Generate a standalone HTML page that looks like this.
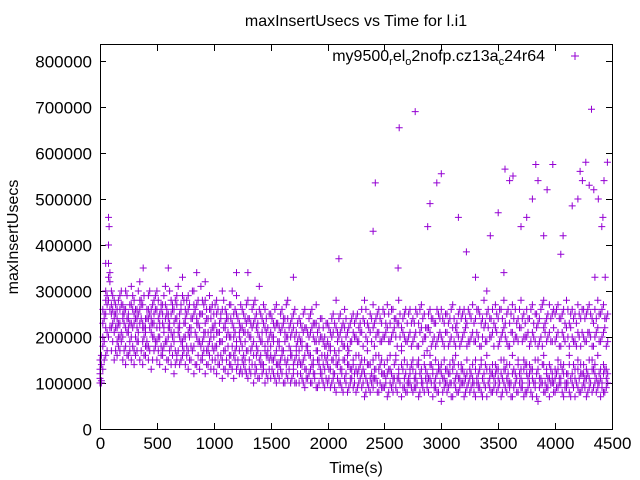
<!DOCTYPE html>
<html><head><meta charset="utf-8"><style>
body{margin:0;background:#fff}
svg{display:block;font-family:"Liberation Sans",sans-serif}
</style></head><body>
<svg id="c" width="640" height="480">
<rect width="640" height="480" fill="#fff"/>
<text x="356" y="26" font-size="16" text-anchor="middle">maxInsertUsecs vs Time for l.i1</text>
<text x="356" y="473" font-size="16" text-anchor="middle">Time(s)</text>
<text x="18" y="237" font-size="16" text-anchor="middle" transform="rotate(-90 18 237)">maxInsertUsecs</text>
<g id="axes"></g>
<g id="pts"></g>
<rect x="100.5" y="44.5" width="512" height="385" fill="none" stroke="#000"/>
<g>
<text x="545" y="61" font-size="16" text-anchor="end">my9500<tspan font-size="11" dy="4">r</tspan><tspan dy="-4">el</tspan><tspan font-size="11" dy="4">o</tspan><tspan dy="-4">2nofp.cz13a</tspan><tspan font-size="11" dy="4">c</tspan><tspan dy="-4">24r64</tspan></text>
<path d="M571 56h8M575 52v8" stroke="#9400d3" stroke-width="1"/>
</g>
</svg>
<script>
const times=[0,25,50,75,100,125,150,175,200,225,250,275,300,325,350,375,400,425,450,475,500,525,550,575,600,625,650,675,700,725,750,775,800,825,850,875,900,925,950,975,1000,1025,1050,1075,1100,1125,1150,1175,1200,1225,1250,1275,1300,1325,1350,1375,1400,1425,1450,1475,1500,1525,1550,1575,1600,1625,1650,1675,1700,1725,1750,1775,1800,1825,1850,1875,1900,1925,1950,1975,2000,2025,2050,2075,2100,2125,2150,2175,2200,2225,2250,2275,2300,2325,2350,2375,2400,2425,2450,2475,2500,2525,2550,2575,2600,2625,2650,2675,2700,2725,2750,2775,2800,2825,2850,2875,2900,2925,2950,2975,3000,3025,3050,3075,3100,3125,3150,3175,3200,3225,3250,3275,3300,3325,3350,3375,3400,3425,3450,3475,3500,3525,3550,3575,3600,3625,3650,3675,3700,3725,3750,3775,3800,3825,3850,3875,3900,3925,3950,3975,4000,4025,4050,4075,4100,4125,4150,4175,4200,4225,4250,4275,4300,4325,4350,4375,4400,4425,4450];
const timesB=[12,37,62,87,112,137,162,187,212,237,262,287,312,337,362,387,412,437,462,487,512,537,562,587,612,637,662,687,712,737,762,787,812,837,862,887,912,937,962,987,1012,1037,1062,1087,1112,1137,1162,1187,1212,1237,1262,1287,1312,1337,1362,1387,1412,1437,1462,1487,1512,1537,1562,1587,1612,1637,1662,1687,1712,1737,1762,1787,1812,1837,1862,1887,1912,1937,1962,1987,2012,2037,2062,2087,2112,2137,2162,2187,2212,2237,2262,2287,2312,2337,2362,2387,2412,2437,2462,2487,2512,2537,2562,2587,2612,2637,2662,2687,2712,2737,2762,2787,2812,2837,2862,2887,2912,2937,2962,2987,3012,3037,3062,3087,3112,3137,3162,3187,3212,3237,3262,3287,3312,3337,3362,3387,3412,3437,3462,3487,3512,3537,3562,3587,3612,3637,3662,3687,3712,3737,3762,3787,3812,3837,3862,3887,3912,3937,3962,3987,4012,4037,4062,4087,4112,4137,4162,4187,4212,4237,4262,4287,4312,4337,4362,4387,4412,4437,4462];
const seriesA=[120,180,250,360,220,210,190,230,200,180,240,200,170,220,260,190,210,180,230,200,190,220,170,240,200,180,210,160,230,190,200,170,220,180,240,190,160,210,180,200,170,210,190,150,220,180,200,160,190,170,180,150,210,170,190,160,200,140,180,170,160,190,140,180,170,150,200,160,130,170,150,180,130,170,160,140,190,150,120,160,140,170,120,160,150,130,180,140,110,150,160,130,150,120,170,140,110,160,130,150,140,120,160,100,150,130,170,110,140,120,150,110,140,130,160,100,140,120,150,130,120,150,100,140,130,160,110,140,120,150,130,110,150,120,140,100,160,130,120,140,110,150,130,140,100,160,120,140,130,150,120,140,110,150,130,100,160,120,140,110,130,150,110,140,120,160,100,130,150,120,140,110,150,130,120,160,110,140,130];
const seriesB=[150,260,300,400,300,280,260,290,270,300,250,310,280,260,320,270,240,290,260,280,300,250,270,310,240,280,260,290,250,330,260,290,240,300,270,250,280,320,240,260,250,280,230,300,260,240,270,250,290,230,260,240,280,230,270,250,310,240,260,220,250,230,270,220,260,240,280,230,250,210,240,220,260,210,250,230,270,220,240,200,230,210,250,280,240,220,260,210,230,250,240,220,260,280,230,250,270,240,260,230,250,270,230,260,240,280,220,250,230,260,240,260,230,270,250,220,260,240,230,250,260,230,250,240,270,220,250,240,260,230,250,270,240,260,230,280,250,240,260,270,240,260,280,250,230,270,260,240,280,250,260,240,270,250,230,260,280,240,270,250,250,270,240,260,280,230,260,250,270,240,260,250,270,240,260,280,250,270,240];
const seriesC=[100,130,160,200,170,150,160,170,150,140,160,150,140,170,150,140,160,150,130,170,150,140,160,130,150,140,120,150,140,160,140,130,150,120,140,130,150,120,140,130,130,120,140,110,130,120,140,110,130,120,120,130,110,120,100,130,110,120,100,110,110,120,100,110,120,100,110,100,120,100,100,110,90,110,100,120,90,100,110,90,100,90,110,80,100,90,110,80,100,90,80,100,90,70,100,80,90,110,80,90,90,70,100,80,90,110,70,90,80,100,80,90,70,100,80,90,110,70,90,80,60,90,80,100,70,90,80,100,70,90,80,100,70,90,80,100,70,90,80,100,90,70,100,80,90,70,100,80,90,70,80,100,70,90,60,100,80,90,70,100,80,90,100,70,90,80,100,70,90,80,100,70,90,80,100,90,70,80,90];
const seriesD=[110,200,220,280,250,240,220,200,250,220,210,230,250,190,230,220,180,240,210,230,220,200,230,190,250,210,190,240,200,180,230,210,180,250,200,220,190,230,170,210,200,180,230,190,170,210,160,200,180,210,150,190,170,200,160,180,150,190,170,160,180,150,170,140,160,190,150,170,140,160,170,140,160,180,130,150,170,140,160,130,160,130,150,140,170,120,150,160,130,140,130,160,120,150,140,110,150,130,160,120,120,150,130,110,160,120,140,150,100,130,130,120,150,110,140,120,160,130,110,140,140,110,130,120,150,110,140,130,100,120,110,140,130,100,150,120,130,110,140,120,130,120,150,110,140,120,100,150,110,130,140,120,130,100,150,110,140,130,110,120,110,130,140,120,100,140,120,110,130,140,120,130,110,150,140,100,130,120,110];
const seriesE=[130,230,280,330,270,250,240,260,240,260,220,270,230,240,280,230,220,260,240,250,260,230,250,270,220,250,230,270,220,290,240,260,210,270,230,220,250,280,210,240,220,250,210,260,230,210,240,220,250,200,220,210,240,200,230,220,260,210,220,190,210,200,230,190,220,210,240,200,220,180,200,190,220,180,210,200,230,190,200,180,190,180,210,220,200,190,220,180,190,210,200,190,210,230,190,210,220,200,210,190,200,220,190,210,200,230,180,200,190,210,190,210,180,220,200,170,210,190,180,200,200,180,210,190,220,180,200,190,210,180,190,210,190,200,180,220,190,200,210,220,180,200,220,190,180,210,200,190,220,200,200,180,210,190,180,200,220,190,210,190,190,210,180,200,220,180,200,190,210,180,200,190,210,180,200,220,190,210,180];
const seriesF=[140,240,270,320,260,250,230,270,250,240,230,260,240,250,270,220,240,250,230,260,240,260,220,250,230,260,240,220,260,230,250,220,240,260,230,250,210,240,260,220,230,210,240,220,250,200,230,210,240,220,210,230,200,220,240,210,190,230,210,200,200,220,190,210,230,200,180,210,200,190,190,210,180,200,220,190,170,200,190,180,180,200,170,190,210,180,200,170,190,200,190,210,180,200,220,190,180,210,190,200,210,190,200,220,180,200,210,190,200,180,200,180,210,190,200,220,180,200,190,210,190,210,180,200,190,210,180,200,220,190,200,190,210,180,200,190,220,200,180,210,190,210,200,180,210,190,200,220,190,200,210,190,200,220,190,180,210,200,190,220,200,180,210,190,200,220,190,180,200,210,190,210,200,180,210,190,200,220,190];
const seriesG=[105,190,210,260,230,220,200,210,230,210,190,220,200,210,240,200,190,220,200,190,200,180,210,190,220,200,170,210,190,200,180,200,170,210,190,180,200,170,190,180,180,160,190,170,200,160,180,170,150,190,160,170,150,180,140,170,160,140,160,150,150,160,140,150,170,140,130,160,150,140,140,150,130,160,140,120,150,130,140,150,130,150,120,140,130,150,120,140,130,120,120,140,130,110,140,120,130,100,140,120,110,130,120,140,110,100,130,120,110,140,110,140,120,100,130,110,140,100,120,130,110,130,120,100,140,120,110,130,110,100,120,100,110,130,110,140,100,120,110,130,100,110,130,120,100,130,110,120,100,140,110,130,100,120,110,140,100,110,130,100,120,110,130,100,120,110,140,100,110,120,110,120,100,130,110,120,100,130,120];
const seriesH=[100,150,170,220,190,170,180,190,170,160,170,180,160,190,170,160,180,170,150,180,170,160,180,150,170,160,140,170,150,170,160,150,170,140,160,150,170,140,160,150,150,140,160,130,150,140,130,150,140,130,140,120,130,140,120,110,140,130,120,130,130,110,120,130,100,120,130,110,100,120,120,100,110,120,100,110,90,120,100,110,110,100,90,110,100,80,100,90,110,100,90,110,100,80,90,100,110,80,100,90,100,80,90,110,80,100,90,80,100,90,90,100,80,90,110,80,100,90,80,100,80,100,90,70,100,80,90,100,80,100,90,80,100,90,70,90,100,80,90,80,100,80,90,100,70,90,80,100,90,80,90,80,100,70,90,100,80,90,100,80,90,100,80,90,100,70,90,100,80,90,90,80,100,90,80,100,90,80,100];
const seriesI=[160,250,290,340,290,270,280,300,260,290,270,290,260,300,280,290,260,300,270,290,280,270,290,260,300,270,280,310,270,280,280,270,300,260,280,310,270,260,290,270,270,260,250,280,240,270,300,260,240,270,250,270,240,260,280,230,250,270,240,250,240,260,230,250,240,270,220,240,260,230,230,250,220,240,260,230,210,240,220,230,220,240,230,210,250,230,240,220,240,230,250,230,240,260,220,240,230,250,240,260,230,250,260,240,230,250,240,260,250,230,230,250,260,240,220,250,240,230,260,240,240,250,230,260,240,230,260,250,240,260,240,230,260,250,240,230,260,240,230,250,260,240,230,260,250,240,230,260,240,230,240,260,230,250,240,270,230,250,240,260,260,240,250,230,260,250,240,230,250,260,240,260,250,230,240,250,260,240,250];
const outlierTimes=[75,80,50,2100,2400,2420,2630,2770,2900,2960,3000,2880,3150,3220,3430,3500,3560,3600,3630,3700,3750,3800,3830,3850,3900,3930,3980,4070,4150,4200,4220,4240,4270,4300,4320,4340,4380,4410,4420,4430,4440,4460,4350,3400,2620,3300,3550,4050,1300,1200,600,380,850,1700];
const outlierValues=[460,440,360,370,430,535,655,690,490,535,555,440,460,385,420,470,565,540,550,440,460,500,575,540,420,520,575,420,485,500,560,540,580,530,695,520,500,440,460,540,330,580,330,300,350,330,340,380,340,340,350,350,340,330];
const yTicks=[0,100000,200000,300000,400000,500000,600000,700000,800000];
const xTicks=[0,500,1000,1500,2000,2500,3000,3500,4000,4500];
const NS='http://www.w3.org/2000/svg';
function xs(t){return 100+t*512/4500;}
function ys(v){return 429-v*368/800000;}
const ax=document.getElementById('axes');
yTicks.forEach(v=>{const y=Math.round(ys(v))+0.5;
 const p=document.createElementNS(NS,'path');p.setAttribute('d',`M100 ${y}h6M612 ${y}h-6`);p.setAttribute('stroke','#000');
 
 ax.appendChild(p);
 const t=document.createElementNS(NS,'text');t.setAttribute('x',92);t.setAttribute('y',y+6);t.setAttribute('font-size','17');t.setAttribute('text-anchor','end');t.textContent=v;
 
 ax.appendChild(t);});
xTicks.forEach(v=>{const x=Math.round(xs(v))+0.5;
 const p=document.createElementNS(NS,'path');p.setAttribute('d',`M${x} 429v-6M${x} 45v6`);p.setAttribute('stroke','#000');
 
 ax.appendChild(p);
 const t=document.createElementNS(NS,'text');t.setAttribute('x',x);t.setAttribute('y',449);t.setAttribute('font-size','17');t.setAttribute('text-anchor','middle');t.textContent=v;
 
 ax.appendChild(t);});
const g=document.getElementById('pts');let d='';
function add(t,v){const x=xs(t),y=ys(v*1000);d+=`M${(x-3.5).toFixed(1)} ${y.toFixed(1)}h7M${x.toFixed(1)} ${(y-3.5).toFixed(1)}v7`;}
[seriesA,seriesB,seriesC,seriesD,seriesE].forEach(s=>s.forEach((v,i)=>add(times[i],v)));
[seriesF,seriesG,seriesH,seriesI].forEach(s=>s.forEach((v,i)=>add(timesB[i],v)));
outlierTimes.forEach((t,i)=>add(t,outlierValues[i]));
const path=document.createElementNS(NS,'path');path.setAttribute('d',d);path.setAttribute('stroke','#9400d3');path.setAttribute('fill','none');


g.appendChild(path);
</script>
</body></html>
